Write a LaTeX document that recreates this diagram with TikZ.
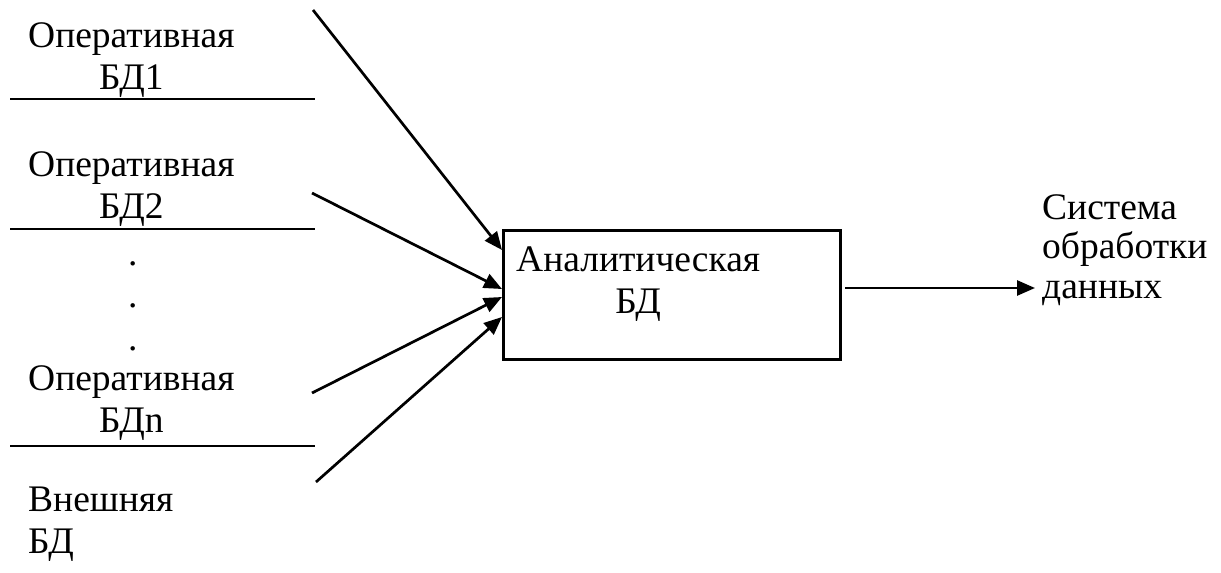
\documentclass[tikz,border=0pt]{standalone}
\usepackage{fontspec}
\setmainfont{Liberation Serif}
\usetikzlibrary{arrows.meta}
\begin{document}
\begin{tikzpicture}[x=1pt, y=-1pt,
  lbl/.style={font=\fontsize{37.5}{42}\selectfont, inner sep=0pt, anchor=base west},
  rule/.style={line width=2.7pt},
  flow/.style={line width=2.7pt, -{Triangle[length=18pt, width=15pt]}},
  dbbox/.style={draw, line width=2.7pt, inner sep=0pt, anchor=north west,
    minimum width=337pt, minimum height=129pt}]
\useasboundingbox (0,0) rectangle (1221,573);

% operational databases, each with a rule underneath
% (a multi-line node's base anchor sits on its last line)
\node[lbl, align=center] (op1) at (28,89)  {Оперативная\\БД1};
\node[lbl, align=center] (op2) at (28,218) {Оперативная\\БД2};
\node[lbl, align=center] (opn) at (28,432) {Оперативная\\БДn};
\node[lbl, align=left]   (ext) at (28,553) {Внешняя\\БД};

\coordinate (r1a) at (10,99);  \coordinate (r1b) at (315,99);
\coordinate (r2a) at (10,229); \coordinate (r2b) at (315,229);
\coordinate (r3a) at (10,446); \coordinate (r3b) at (315,446);
\draw[rule] (r1a) -- (r1b);
\draw[rule] (r2a) -- (r2b);
\draw[rule] (r3a) -- (r3b);

% vertical ellipsis
\node[lbl] (dot1) at (128,265) {.};
\node[lbl] (dot2) at (128,307) {.};
\node[lbl] (dot3) at (128,350) {.};

% analytical database
\node[dbbox] (adb) at (502,229) {};
\node[lbl, align=center] (adbt) at (516,313) {Аналитическая\\БД};

% data processing system
\node[lbl, align=left, font=\fontsize{37.5}{39.5}\selectfont] (sys) at (1042,298)
  {Система\\обработки\\данных};

% incoming flows
\coordinate (s1) at (313,10);  \coordinate (t1) at (502,250);
\coordinate (s2) at (312,193); \coordinate (t2) at (502,289);
\coordinate (s3) at (312,393); \coordinate (t3) at (502,297);
\coordinate (s4) at (316,482); \coordinate (t4) at (502,317);
\draw[flow] (s1) -- (t1);
\draw[flow] (s2) -- (t2);
\draw[flow] (s3) -- (t3);
\draw[flow] (s4) -- (t4);

% outgoing flow
\coordinate (o1) at (845,288); \coordinate (o2) at (1035,288);
\draw[flow] (o1) -- (o2);
\end{tikzpicture}
\end{document}
